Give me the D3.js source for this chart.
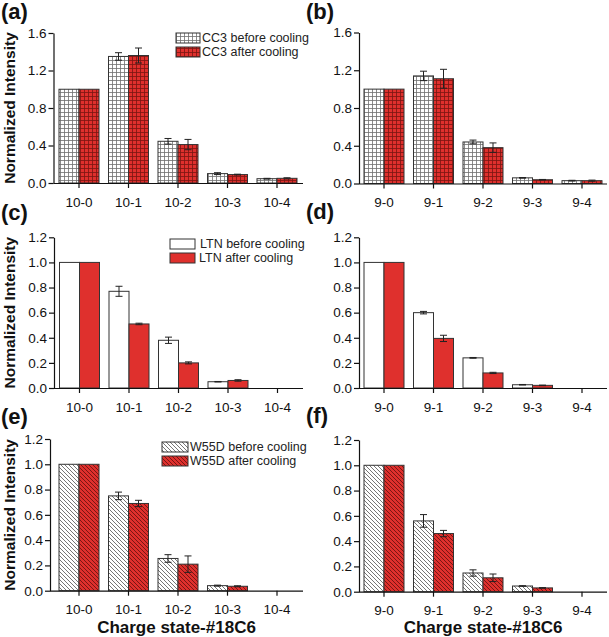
<!DOCTYPE html>
<html>
<head>
<meta charset="utf-8">
<script src="https://cdn.jsdelivr.net/npm/d3@7"></script>
<style>
  html, body { margin: 0; padding: 0; background: #fff; }
  svg { display: block; font-family: "Liberation Sans", Arial, sans-serif; }
</style>
</head>
<body>
<svg id="chart" width="609" height="637"></svg>
<script>
// ---------------- DATA ----------------
const cats10 = ["10-0", "10-1", "10-2", "10-3", "10-4"];
const cats9  = ["9-0", "9-1", "9-2", "9-3", "9-4"];

const yTicks16 = [0, 0.4, 0.8, 1.2, 1.6];
const yTicks12 = [0, 0.2, 0.4, 0.6, 0.8, 1.0, 1.2];

// (a) CC3, 10-x
const aBefore    = [1.00, 1.35, 0.445, 0.10, 0.046];
const aBeforeErr = [0.00, 0.04, 0.03, 0.01, 0.004];
const aAfter     = [1.00, 1.36, 0.41, 0.09, 0.05];
const aAfterErr  = [0.00, 0.08, 0.055, 0.004, 0.006];
// (b) CC3, 9-x
const bBefore    = [1.00, 1.14, 0.44, 0.06, 0.03];
const bBeforeErr = [0.00, 0.05, 0.02, 0.003, 0.004];
const bAfter     = [1.00, 1.11, 0.38, 0.04, 0.03];
const bAfterErr  = [0.00, 0.10, 0.05, 0.003, 0.006];
// (c) LTN, 10-x
const cBefore    = [1.00, 0.77, 0.38, 0.05, 0.00];
const cBeforeErr = [0.00, 0.04, 0.025, 0.002, 0.00];
const cAfter     = [1.00, 0.51, 0.20, 0.06, 0.00];
const cAfterErr  = [0.00, 0.006, 0.008, 0.006, 0.00];
// (d) LTN, 9-x
const dBefore    = [1.00, 0.60, 0.24, 0.026, 0.00];
const dBeforeErr = [0.00, 0.01, 0.003, 0.002, 0.00];
const dAfter     = [1.00, 0.395, 0.12, 0.021, 0.00];
const dAfterErr  = [0.00, 0.025, 0.005, 0.002, 0.00];
// (e) W55D, 10-x
const eBefore    = [1.00, 0.75, 0.255, 0.04, 0.00];
const eBeforeErr = [0.00, 0.03, 0.03, 0.004, 0.00];
const eAfter     = [1.00, 0.69, 0.21, 0.035, 0.00];
const eAfterErr  = [0.00, 0.025, 0.065, 0.004, 0.00];
// (f) W55D, 9-x
const fBefore    = [1.00, 0.56, 0.148, 0.045, 0.00];
const fBeforeErr = [0.00, 0.05, 0.025, 0.002, 0.00];
const fAfter     = [1.00, 0.46, 0.11, 0.03, 0.00];
const fAfterErr  = [0.00, 0.025, 0.03, 0.002, 0.00];

const legendA = ["CC3 before cooling", "CC3 after cooling"];
const legendC = [" LTN before cooling", "LTN after cooling"];
const legendE = ["W55D before cooling", "W55D after cooling"];

const yTitle = "Normalized Intensity";
const xTitle = "Charge state-#18C6";

// ---------------- LAYOUT / STYLE ----------------
const RED = "#df302d";
const svg = d3.select("#chart");
const defs = svg.append("defs");

function gridPattern(id, bg, line) {
  const p = defs.append("pattern").attr("id", id).attr("patternUnits", "userSpaceOnUse")
    .attr("width", 4).attr("height", 4);
  p.append("rect").attr("width", 4).attr("height", 4).attr("fill", bg);
  p.append("path").attr("d", "M0,0.5H4M0.5,0V4").attr("stroke", line).attr("stroke-width", 0.8).attr("fill", "none");
}
function hatchPattern(id, bg, line) {
  const p = defs.append("pattern").attr("id", id).attr("patternUnits", "userSpaceOnUse")
    .attr("width", 4).attr("height", 4);
  p.append("rect").attr("width", 4).attr("height", 4).attr("fill", bg);
  p.append("path").attr("d", "M-1,-1L5,5M-1,3L1,5M3,-1L5,1").attr("stroke", line).attr("stroke-width", 0.9).attr("fill", "none");
}
gridPattern("gridW", "#ffffff", "#6e6e6e");
gridPattern("gridR", RED, "#7a1512");
hatchPattern("hatchW", "#ffffff", "#666666");
hatchPattern("hatchR", RED, "#6e1210");

const fills = {
  grid:  ["url(#gridW)", "url(#gridR)"],
  plain: ["#ffffff", RED],
  hatch: ["url(#hatchW)", "url(#hatchR)"]
};

const panels = [
  { label: "(a)", lx: 1, ly: 19, cats: cats10, vals: [aBefore, aAfter], errs: [aBeforeErr, aAfterErr],
    fill: fills.grid, yMax: 1.6, ticks: yTicks16, axisX: 53.5, xEnd: 303, band: [54.25, 301.75], yTop: 33, yBot: 183,
    legend: { names: legendA, sx: 176, sw: 24, y1: 33, y2: 47, sh: 10, tx: [202, 202] }, yTitle: true },
  { label: "(b)", lx: 306, ly: 19, cats: cats9, vals: [bBefore, bAfter], errs: [bBeforeErr, bAfterErr],
    fill: fills.grid, yMax: 1.6, ticks: yTicks16, axisX: 359, xEnd: 607, band: [359.25, 606.75], yTop: 32.5, yBot: 183.5 },
  { label: "(c)", lx: 1, ly: 220, cats: cats10, vals: [cBefore, cAfter], errs: [cBeforeErr, cAfterErr],
    fill: fills.plain, yMax: 1.2, ticks: yTicks12, axisX: 54, xEnd: 303, band: [54.75, 302.25], yTop: 237.3, yBot: 388,
    legend: { names: legendC, sx: 170, sw: 25, y1: 239, y2: 253, sh: 10, tx: [200, 199] }, yTitle: true },
  { label: "(d)", lx: 306, ly: 219, cats: cats9, vals: [dBefore, dAfter], errs: [dBeforeErr, dAfterErr],
    fill: fills.plain, yMax: 1.2, ticks: yTicks12, axisX: 359, xEnd: 607, band: [359.25, 606.75], yTop: 237.3, yBot: 388 },
  { label: "(e)", lx: 1, ly: 424, cats: cats10, vals: [eBefore, eAfter], errs: [eBeforeErr, eAfterErr],
    fill: fills.hatch, yMax: 1.2, ticks: yTicks12, axisX: 50, xEnd: 303, band: [54.25, 301.75], yTop: 439, yBot: 590.7,
    legend: { names: legendE, sx: 162, sw: 26, y1: 442, y2: 456, sh: 10, tx: [190, 190] }, yTitle: true, xTitle: true },
  { label: "(f)", lx: 306, ly: 423, cats: cats9, vals: [fBefore, fAfter], errs: [fBeforeErr, fAfterErr],
    fill: fills.hatch, yMax: 1.2, ticks: yTicks12, axisX: 359, xEnd: 607, band: [359.25, 606.75], yTop: 440, yBot: 591.7, xTitle: true }
];

panels.forEach(p => {
  const g = svg.append("g");
  const x = d3.scaleBand().domain(p.cats).range(p.band).paddingInner(0).paddingOuter(0);
  const bw = x.bandwidth();
  const sub = d3.scaleBand().domain([0, 1]).range([0, bw]).paddingInner(0).paddingOuter((bw - 40) / 2 / 20);
  const y = d3.scaleLinear().domain([0, p.yMax]).range([p.yBot, p.yTop]);

  // bars
  [0, 1].forEach(s => {
    const rows = p.cats.map((c, i) => ({ c, v: p.vals[s][i], e: p.errs[s][i] }));
    g.append("g").selectAll("rect").data(rows.filter(d => d.v > 0)).join("rect")
      .attr("x", d => x(d.c) + sub(s))
      .attr("y", d => y(d.v))
      .attr("width", sub.bandwidth())
      .attr("height", d => y(0) - y(d.v))
      .attr("fill", p.fill[s])
      .attr("stroke", "#333")
      .attr("stroke-width", 1);
    // error bars
    const eb = g.append("g").attr("stroke", "#222").attr("stroke-width", 1).attr("fill", "none");
    rows.filter(d => d.v > 0 && d.e > 0).forEach(d => {
      const cx = x(d.c) + sub(s) + sub.bandwidth() / 2;
      const y1 = y(d.v + d.e), y2 = y(d.v - d.e);
      eb.append("path").attr("d", `M${cx},${y1}V${y2}M${cx - 3.5},${y1}H${cx + 3.5}M${cx - 3.5},${y2}H${cx + 3.5}`);
    });
  });

  // y axis
  const ya = g.append("g").attr("transform", `translate(${p.axisX},0)`)
    .call(d3.axisLeft(y).tickValues(p.ticks).tickFormat(d3.format(".1f")).tickSize(5).tickPadding(2).tickSizeOuter(0));
  ya.selectAll("text").attr("font-size", "13.5px").attr("fill", "#111").style("font-family", "Liberation Sans, Arial, sans-serif");
  ya.selectAll("line, path").attr("stroke", "#111").attr("stroke-width", 1.2);

  // x axis
  const xa = g.append("g").attr("transform", `translate(0,${p.yBot})`)
    .call(d3.axisBottom(x).tickSize(5).tickPadding(9).tickSizeOuter(0));
  xa.select("path.domain").attr("d", `M${p.axisX},0.5H${p.xEnd}`);
  xa.selectAll("text").attr("font-size", "13.5px").attr("fill", "#111").style("font-family", "Liberation Sans, Arial, sans-serif");
  xa.selectAll("line, path").attr("stroke", "#111").attr("stroke-width", 1.2);

  // panel label
  svg.append("text").attr("x", p.lx).attr("y", p.ly).text(p.label)
    .attr("font-size", "22px").attr("font-weight", "bold").attr("fill", "#111");

  if (p.yTitle) {
    svg.append("text")
      .attr("transform", `translate(15,${(p.yTop + p.yBot) / 2}) rotate(-90)`)
      .attr("text-anchor", "middle")
      .attr("font-size", "15.5px").attr("font-weight", "bold").attr("fill", "#111")
      .text(yTitle);
  }
  if (p.xTitle) {
    svg.append("text")
      .attr("x", (p.axisX + p.xEnd) / 2 + 0).attr("y", 633)
      .attr("text-anchor", "middle")
      .attr("font-size", "17px").attr("font-weight", "bold").attr("fill", "#111")
      .text(xTitle);
  }

  if (p.legend) {
    const L = p.legend;
    [L.y1, L.y2].forEach((yy, s) => {
      svg.append("rect").attr("x", L.sx).attr("y", yy).attr("width", L.sw).attr("height", L.sh)
        .attr("fill", p.fill[s]).attr("stroke", "#333").attr("stroke-width", 1);
      svg.append("text").attr("x", L.tx[s]).attr("y", yy + L.sh / 2).attr("dy", "0.35em")
        .attr("font-size", "12.5px").attr("fill", "#222").text(L.names[s]);
    });
  }
});
</script>
</body>
</html>
